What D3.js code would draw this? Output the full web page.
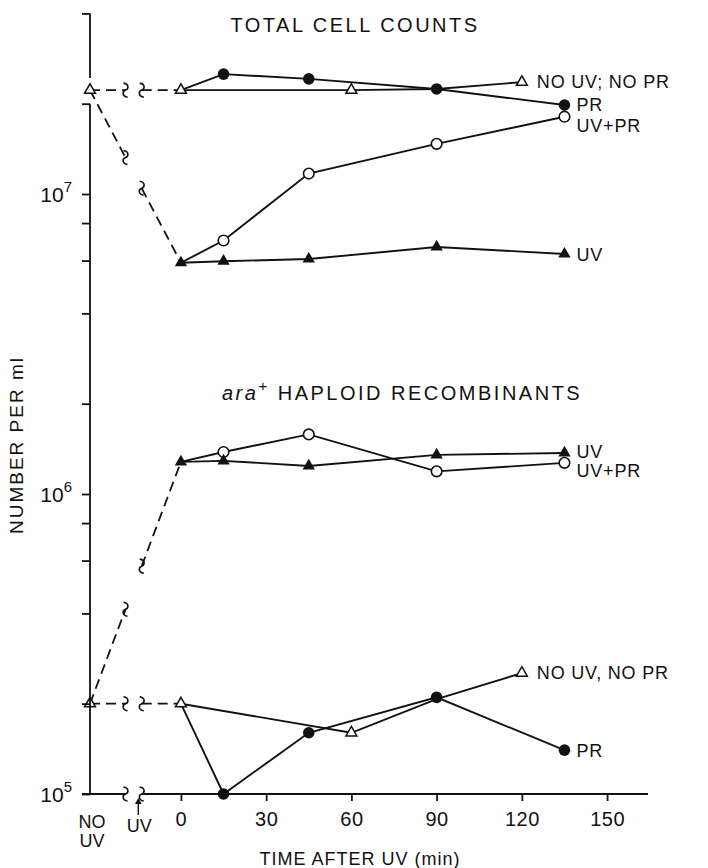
<!DOCTYPE html>
<html>
<head>
<meta charset="utf-8">
<script src="https://cdn.jsdelivr.net/npm/d3@7"></script>
<style>
  body { margin: 0; background: #fff; }
  svg text { font-family: "Liberation Sans", Arial, sans-serif; fill: #111; }
</style>
</head>
<body>
<svg id="chart" width="708" height="868"></svg>
<script>
// time after UV (min) and counts per ml
const timeTicks = [0, 30, 60, 90, 120, 150];
const yTicks = [1e5, 2e5, 4e5, 6e5, 8e5, 1e6, 2e6, 4e6, 6e6, 8e6, 1e7, 2e7, 4e7];
const decadeLabels = [5, 6, 7];

// special positions left of time 0 ("NO UV" column, "UV" arrow, axis break)
const noUvTime = -32;
const uvTime = -15;
const breakTimes = [-19.5, -13.8];

// total cell counts
const noUvTotal = 2.22e7;
const totalNoUvNoPr = [[0, 2.22e7], [60, 2.22e7], [90, 2.24e7], [120, 2.36e7]];
const totalPR = [[0, 2.22e7], [15, 2.51e7], [45, 2.42e7], [90, 2.24e7], [135, 1.98e7]];
const totalUvPr = [[0, 5.9e6], [15, 7.0e6], [45, 1.17e7], [90, 1.47e7], [135, 1.81e7]];
const totalUV = [[0, 5.9e6], [15, 5.97e6], [45, 6.07e6], [90, 6.66e6], [135, 6.31e6]];

// ara+ haploid recombinants
const noUvRecomb = 2.0e5;
const recNoUvNoPr = [[0, 2.0e5], [60, 1.6e5], [90, 2.07e5], [120, 2.53e5]];
const recPR = [[0, 2.0e5], [15, 1.0e5], [45, 1.6e5], [90, 2.1e5], [135, 1.4e5]];
const recUvPr = [[0, 1.28e6], [15, 1.38e6], [45, 1.58e6], [90, 1.19e6], [135, 1.27e6]];
const recUV = [[0, 1.28e6], [15, 1.29e6], [45, 1.24e6], [90, 1.35e6], [135, 1.37e6]];

const svg = d3.select('#chart');
const x = d3.scaleLinear().domain([-32, 164.4]).range([90, 648]);
const y = d3.scaleLog().domain([1e5, 4e7]).range([794, 13.4]);

const lineGen = d3.line().x(d => x(d[0])).y(d => y(d[1]));
const g = svg.append('g').attr('stroke-linecap', 'butt');

// ---- y axis ----
const yAxis = d3.axisLeft(y).tickValues(yTicks).tickFormat('').tickSize(8).tickSizeOuter(0);
const ya = svg.append('g').attr('transform', 'translate(' + x(noUvTime) + ',0)').call(yAxis);
ya.select('.domain').remove();
ya.selectAll('.tick line').attr('stroke', '#111').attr('stroke-width', 1.8);
// broken axis line
svg.append('line').attr('x1', x(noUvTime)).attr('x2', x(noUvTime))
    .attr('y1', y(4e7)).attr('y2', y(noUvTotal) - 12).attr('stroke', '#111').attr('stroke-width', 1.8);
svg.append('line').attr('x1', x(noUvTime)).attr('x2', x(noUvTime))
    .attr('y1', y(2e7)).attr('y2', y(1e5)).attr('stroke', '#111').attr('stroke-width', 1.8);

const yl = svg.append('g').selectAll('text').data(decadeLabels).join('text')
    .attr('x', x(noUvTime) - 18).attr('y', d => y(Math.pow(10, d)) + 8)
    .attr('text-anchor', 'end').attr('font-size', 21);
yl.append('tspan').text('10');
yl.append('tspan').attr('dy', -10).attr('font-size', 15).text(d => d);

svg.append('text').attr('transform', 'translate(23,445) rotate(-90)')
    .attr('text-anchor', 'middle').attr('font-size', 19).attr('letter-spacing', 2)
    .text('NUMBER PER ml');

// ---- x axis ----
const xAxis = d3.axisBottom(x).tickValues(timeTicks).tickSize(7).tickSizeOuter(0).tickPadding(11);
const xa = svg.append('g').attr('transform', 'translate(0,' + y(1e5) + ')').call(xAxis);
xa.select('.domain').remove();
xa.selectAll('.tick line').attr('stroke', '#111').attr('stroke-width', 1.8);
xa.selectAll('.tick text').attr('font-size', 20).attr('letter-spacing', 0.5)
    .attr('font-family', '"Liberation Sans", Arial, sans-serif').attr('fill', '#111');
svg.append('line').attr('x1', x(noUvTime) - 8).attr('x2', x(breakTimes[0]))
    .attr('y1', y(1e5)).attr('y2', y(1e5)).attr('stroke', '#111').attr('stroke-width', 1.8);
svg.append('line').attr('x1', x(breakTimes[1])).attr('x2', x(164.4))
    .attr('y1', y(1e5)).attr('y2', y(1e5)).attr('stroke', '#111').attr('stroke-width', 1.8);

const squiggle = 'M-2,-7 C4,-6 3,-1 0,0 C-3,1 -4,6 2,7';
function drawSquiggle(px, py) {
    g.append('path').attr('d', squiggle).attr('transform', 'translate(' + px + ',' + py + ')')
        .attr('fill', 'none').attr('stroke', '#111').attr('stroke-width', 1.6);
}
breakTimes.forEach(t => drawSquiggle(x(t), y(1e5)));

const noUvLabel = svg.append('text').attr('x', x(noUvTime) + 2).attr('y', 828)
    .attr('text-anchor', 'middle').attr('font-size', 18);
noUvLabel.append('tspan').text('NO');
noUvLabel.append('tspan').attr('x', x(noUvTime) + 2).attr('dy', 19).text('UV');
svg.append('text').attr('x', x(uvTime) + 1).attr('y', 832).attr('text-anchor', 'middle')
    .attr('font-size', 18).text('UV');
svg.append('line').attr('x1', x(uvTime)).attr('x2', x(uvTime)).attr('y1', 815).attr('y2', 802)
    .attr('stroke', '#111').attr('stroke-width', 1.4);
svg.append('path').attr('d', d3.symbol(d3.symbolTriangle, 20)())
    .attr('transform', 'translate(' + x(uvTime) + ',' + 802 + ')').attr('fill', '#111');

svg.append('text').attr('x', 360).attr('y', 865).attr('text-anchor', 'middle')
    .attr('font-size', 18).attr('letter-spacing', 1).text('TIME AFTER UV (min)');

// ---- panel titles ----
svg.append('text').attr('x', 355).attr('y', 32).attr('text-anchor', 'middle')
    .attr('font-size', 20).attr('letter-spacing', 2.5).text('TOTAL CELL COUNTS');
const t2 = svg.append('text').attr('x', 222).attr('y', 400).attr('font-size', 20).attr('letter-spacing', 2.5);
t2.append('tspan').attr('font-style', 'italic').text('ara');
t2.append('tspan').attr('dy', -9).attr('font-size', 15).text('+');
t2.append('tspan').attr('dy', 9).text(' HAPLOID RECOMBINANTS');

// ---- dashed connectors from the NO UV column, broken at the axis break ----
function brokenDash(v0, t1, v1) {
    const p0 = [x(noUvTime), y(v0)], p1 = [x(t1), y(v1)];
    const at = t => {
        const f = (x(t) - p0[0]) / (p1[0] - p0[0]);
        return [p0[0] + f * (p1[0] - p0[0]), p0[1] + f * (p1[1] - p0[1])];
    };
    const a = at(breakTimes[0]), b = at(breakTimes[1]);
    [[p0, a], [b, p1]].forEach(seg => {
        g.append('path').attr('d', d3.line()(seg)).attr('fill', 'none')
            .attr('stroke', '#111').attr('stroke-width', 1.8).attr('stroke-dasharray', '10,6');
    });
    drawSquiggle(a[0], a[1]);
    drawSquiggle(b[0], b[1]);
}
brokenDash(noUvTotal, 0, totalNoUvNoPr[0][1]);
brokenDash(noUvTotal, 0, totalUV[0][1]);
brokenDash(noUvRecomb, 0, recNoUvNoPr[0][1]);
brokenDash(noUvRecomb, 0, recUV[0][1]);

// ---- series lines ----
const allSeries = [
    { data: totalNoUvNoPr, mark: 'otri', skip: [90] },
    { data: totalPR, mark: 'dot', skip: [0] },
    { data: totalUvPr, mark: 'circ', skip: [0] },
    { data: totalUV, mark: 'tri', skip: [] },
    { data: recNoUvNoPr, mark: 'otri', skip: [90] },
    { data: recPR, mark: 'dot', skip: [0] },
    { data: recUvPr, mark: 'circ', skip: [0] },
    { data: recUV, mark: 'tri', skip: [] },
];
allSeries.forEach(s => {
    g.append('path').attr('d', lineGen(s.data)).attr('fill', 'none')
        .attr('stroke', '#111').attr('stroke-width', 1.9);
});

// ---- markers ----
function marker(kind, px, py) {
    if (kind === 'dot') {
        g.append('circle').attr('cx', px).attr('cy', py).attr('r', 5.8).attr('fill', '#111');
    } else if (kind === 'circ') {
        g.append('circle').attr('cx', px).attr('cy', py).attr('r', 5.3).attr('fill', '#fff')
            .attr('stroke', '#111').attr('stroke-width', 1.6);
    } else if (kind === 'tri') {
        g.append('path').attr('d', d3.symbol(d3.symbolTriangle, 66)())
            .attr('transform', 'translate(' + px + ',' + py + ')').attr('fill', '#111');
    } else {
        g.append('path').attr('d', d3.symbol(d3.symbolTriangle, 52)())
            .attr('transform', 'translate(' + px + ',' + py + ')').attr('fill', '#fff')
            .attr('stroke', '#111').attr('stroke-width', 1.5);
    }
}
marker('otri', x(noUvTime), y(noUvTotal));
marker('otri', x(noUvTime), y(noUvRecomb));
allSeries.forEach(s => {
    s.data.filter(d => !s.skip.includes(d[0])).forEach(d => marker(s.mark, x(d[0]), y(d[1])));
});

// ---- end labels ----
const endLabels = [
    { text: 'NO UV; NO PR', t: 120, v: 2.36e7, dx: 15, dy: 6 },
    { text: 'PR', t: 135, v: 1.98e7, dx: 12, dy: 6 },
    { text: 'UV+PR', t: 135, v: 1.81e7, dx: 12, dy: 15 },
    { text: 'UV', t: 135, v: 6.31e6, dx: 12, dy: 7 },
    { text: 'UV', t: 135, v: 1.37e6, dx: 12, dy: 5 },
    { text: 'UV+PR', t: 135, v: 1.27e6, dx: 12, dy: 14 },
    { text: 'NO UV, NO PR', t: 120, v: 2.53e5, dx: 15, dy: 6 },
    { text: 'PR', t: 135, v: 1.4e5, dx: 12, dy: 7 },
];
svg.append('g').selectAll('text').data(endLabels).join('text')
    .attr('x', d => x(d.t) + d.dx).attr('y', d => y(d.v) + d.dy)
    .attr('font-size', 18).attr('letter-spacing', 0.8).text(d => d.text);
</script>
</body>
</html>
